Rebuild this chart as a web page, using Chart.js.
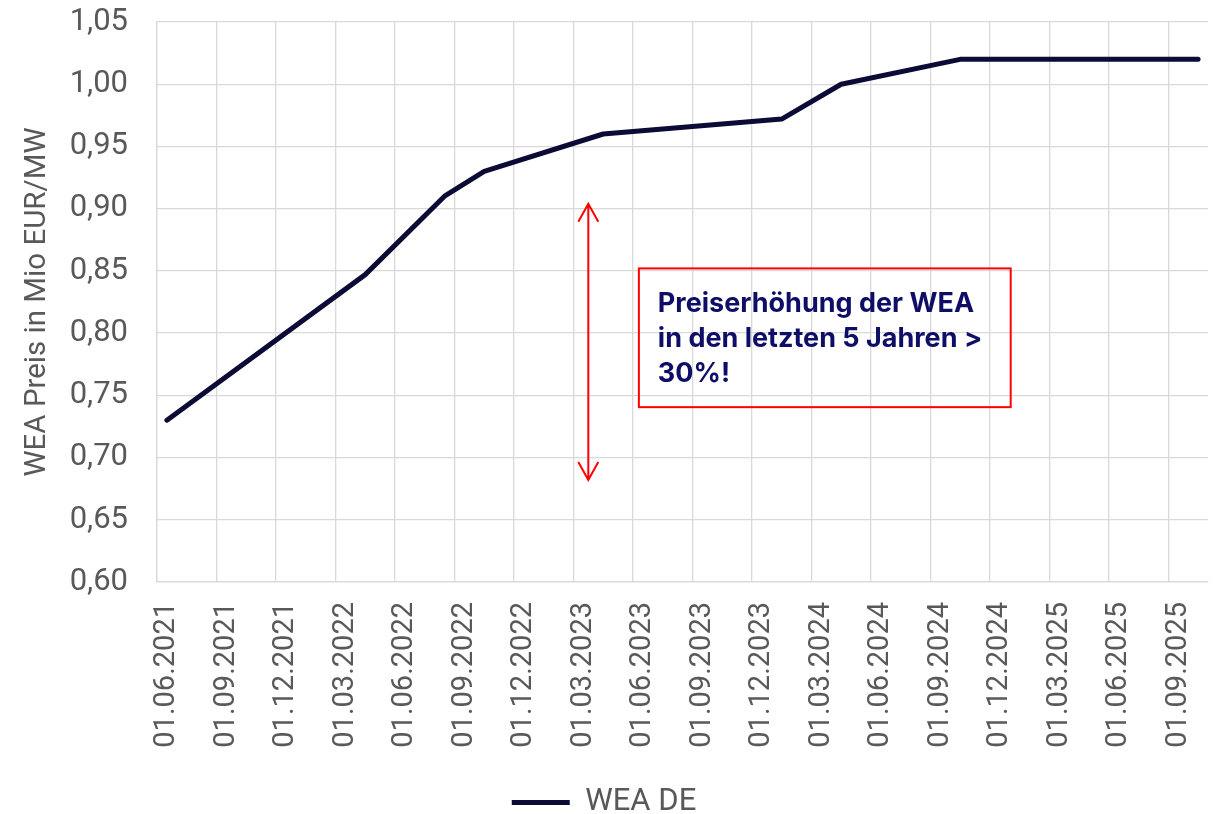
<!DOCTYPE html>
<html>
<head>
<meta charset="utf-8">
<script src="https://cdn.jsdelivr.net/npm/chart.js@4.4.1/dist/chart.umd.min.js"></script>
<style>
  html, body { margin: 0; padding: 0; background: #fff; }
  #wrap { width: 1217px; height: 814px; }
</style>
</head>
<body>
<div id="wrap"><canvas id="priceChart"></canvas></div>
<script>
// monthly category axis (Excel date axis, base unit month)
const months = [
  '01.06.2021', '01.07.2021', '01.08.2021', '01.09.2021', '01.10.2021', '01.11.2021', '01.12.2021',
  '01.01.2022', '01.02.2022', '01.03.2022', '01.04.2022', '01.05.2022', '01.06.2022',
  '01.07.2022', '01.08.2022', '01.09.2022', '01.10.2022', '01.11.2022', '01.12.2022',
  '01.01.2023', '01.02.2023', '01.03.2023', '01.04.2023', '01.05.2023', '01.06.2023',
  '01.07.2023', '01.08.2023', '01.09.2023', '01.10.2023', '01.11.2023', '01.12.2023',
  '01.01.2024', '01.02.2024', '01.03.2024', '01.04.2024', '01.05.2024', '01.06.2024',
  '01.07.2024', '01.08.2024', '01.09.2024', '01.10.2024', '01.11.2024', '01.12.2024',
  '01.01.2025', '01.02.2025', '01.03.2025', '01.04.2025', '01.05.2025', '01.06.2025',
  '01.07.2025', '01.08.2025', '01.09.2025', '01.10.2025'
];

// WEA DE price points (Mio EUR/MW)
const pointDates = ['01.06.2021', '01.04.2022', '01.08.2022', '01.10.2022', '01.04.2023',
                    '01.01.2024', '01.04.2024', '01.10.2024', '01.10.2025'];
const pointValues = [0.73, 0.847, 0.91, 0.93, 0.96, 0.972, 1.00, 1.02, 1.02];

// y axis ticks
const yMin = 0.60;
const yMax = 1.05;
const yStep = 0.05;

const seriesName = 'WEA DE';
const yTitle = 'WEA Preis in Mio EUR/MW';
const noteLines = ['Preiserhöhung der WEA', 'in den letzten 5 Jahren >', '30%!'];

// annotation anchors in data units (month index / price)
const arrowAt = { x: 21.25, yTop: 0.904, yBottom: 0.682 };
const noteBox = { x0: 23.8, x1: 42.55, yTop: 0.852, yBottom: 0.7405 };

const gridGrey = '#d9d9d9';
const textGrey = '#595959';
const lineNavy = '#0b0b35';

const annotationPlugin = {
    id: 'priceNote',
    afterDatasetsDraw(chart) {
        const ctx = chart.ctx;
        const xs = chart.scales.x;
        const ys = chart.scales.y;

        ctx.save();
        ctx.strokeStyle = '#ff0000';
        ctx.lineWidth = 2;

        // double arrow
        const ax = xs.getPixelForValue(arrowAt.x);
        const aTop = ys.getPixelForValue(arrowAt.yTop);
        const aBot = ys.getPixelForValue(arrowAt.yBottom);
        ctx.beginPath();
        ctx.moveTo(ax, aTop);
        ctx.lineTo(ax, aBot);
        ctx.moveTo(ax - 10, aTop + 18);
        ctx.lineTo(ax, aTop);
        ctx.lineTo(ax + 10, aTop + 18);
        ctx.moveTo(ax - 10, aBot - 18);
        ctx.lineTo(ax, aBot);
        ctx.lineTo(ax + 10, aBot - 18);
        ctx.stroke();

        // box
        const bx0 = xs.getPixelForValue(noteBox.x0);
        const bx1 = xs.getPixelForValue(noteBox.x1);
        const by0 = ys.getPixelForValue(noteBox.yTop);
        const by1 = ys.getPixelForValue(noteBox.yBottom);
        ctx.strokeRect(bx0, by0, bx1 - bx0, by1 - by0);

        // text
        ctx.fillStyle = '#0e0e66';
        ctx.font = 'bold 27px Inter, "Noto Sans", sans-serif';
        ctx.textBaseline = 'alphabetic';
        ctx.textAlign = 'left';
        noteLines.forEach((line, i) => {
            ctx.fillText(line, bx0 + 19, by0 + 44 + i * 35);
        });
        ctx.restore();
    }
};

const ctx = document.getElementById('priceChart').getContext('2d');

new Chart(ctx, {
    type: 'line',
    data: {
        labels: months,
        datasets: [{
            label: seriesName,
            data: pointDates.map((d, i) => ({ x: d, y: pointValues[i] })),
            borderColor: lineNavy,
            backgroundColor: lineNavy,
            borderWidth: 5,
            borderCapStyle: 'round',
            borderJoinStyle: 'round',
            pointRadius: 0,
            pointHoverRadius: 0,
            tension: 0,
            fill: false
        }]
    },
    options: {
        responsive: true,
        maintainAspectRatio: false,
        animation: false,
        layout: {
            padding: { top: 22, right: 9, left: 0, bottom: -14 }
        },
        scales: {
            x: {
                type: 'category',
                offset: true,
                grid: {
                    offset: true,
                    drawTicks: false,
                    lineWidth: 1.3,
                    color: c => (c.index % 3 === 0 ? gridGrey : 'rgba(0,0,0,0)')
                },
                border: { color: gridGrey, width: 1.3 },
                ticks: {
                    autoSkip: false,
                    maxRotation: 90,
                    minRotation: 90,
                    padding: 20,
                    color: textGrey,
                    font: { family: 'Roboto', size: 29 },
                    callback: function (val, index) {
                        return index % 3 === 0 ? this.getLabelForValue(val) : '';
                    }
                },
                afterFit: scale => {
                    scale.height = 205;
                    scale.paddingLeft = 0;
                    scale.paddingRight = 0;
                }
            },
            y: {
                min: yMin,
                max: yMax,
                grid: {
                    drawTicks: false,
                    lineWidth: 1.3,
                    color: gridGrey
                },
                border: { color: gridGrey, width: 1.3 },
                ticks: {
                    stepSize: yStep,
                    padding: 29,
                    color: textGrey,
                    font: { family: 'Roboto', size: 31 },
                    callback: v => v.toFixed(2).replace('.', ',')
                },
                title: {
                    display: true,
                    text: yTitle,
                    color: textGrey,
                    font: { family: 'Roboto', size: 29.5 },
                    padding: { top: 20, bottom: 0 }
                },
                afterFit: scale => {
                    scale.width = 157;
                    scale.paddingTop = 0;
                    scale.paddingBottom = 0;
                }
            }
        },
        plugins: {
            legend: {
                position: 'bottom',
                labels: {
                    usePointStyle: true,
                    pointStyle: 'line',
                    pointStyleWidth: 58,
                    padding: 0,
                    color: textGrey,
                    font: { family: 'Roboto', size: 31 }
                }
            },
            tooltip: { enabled: false }
        }
    },
    plugins: [annotationPlugin]
});
</script>
</body>
</html>
